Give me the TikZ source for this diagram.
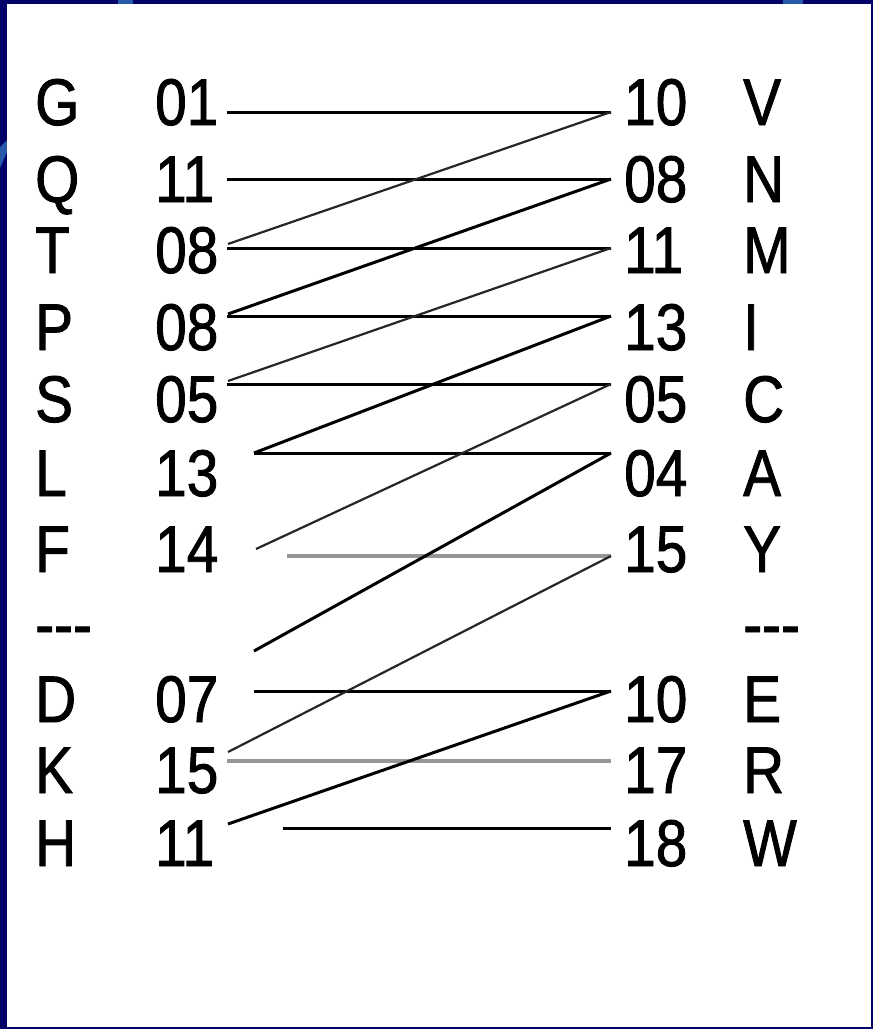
\documentclass[tikz,border=0pt]{standalone}
\usepackage{fontspec}
\newfontfamily\af[FakeStretch=0.86,FakeBold=1.3]{Liberation Sans}
\definecolor{navy}{RGB}{2,2,104}
\definecolor{swirl}{RGB}{40,90,170}
\definecolor{lgray}{RGB}{150,150,150}
\begin{document}
\begin{tikzpicture}[x=1pt,y=-1pt,
  lbl/.style={anchor=base west, inner sep=0pt, font=\af\fontsize{66}{70}\selectfont},
  hline/.style={line width=3pt, black},
  gline/.style={line width=4.5pt, lgray},
  thick diag/.style={line width=3pt, black},
  thin diag/.style={line width=2.2pt, black!85}]
\useasboundingbox (0,0) rectangle (873,1029);
\fill[navy] (0,0) rectangle (873,1029);
% decorative bits of the slide background
\fill[swirl] (118,0) rectangle (133,4);
\fill[swirl] (783,0) rectangle (803,4);
\fill[swirl] (0,147) -- (7,140) -- (7,152) -- (0,168) -- cycle;
\fill[white] (7,4) rectangle (871,1027);
% left column
\node[lbl] (G)  at (35,125) {G};   \node[lbl] (nG) at (155,125) {01};
\node[lbl] (Q)  at (35,202) {Q};   \node[lbl] (nQ) at (155,202) {11};
\node[lbl] (T)  at (35,273) {T};   \node[lbl] (nT) at (155,273) {08};
\node[lbl] (P)  at (35,350) {P};   \node[lbl] (nP) at (155,350) {08};
\node[lbl] (S)  at (35,422) {S};   \node[lbl] (nS) at (155,422) {05};
\node[lbl] (L)  at (35,496) {L};   \node[lbl] (nL) at (155,496) {13};
\node[lbl] (F)  at (35,572) {F};   \node[lbl] (nF) at (155,572) {14};
\node[lbl] (dl) at (35,647) {\hbox{-}\hbox{-}\hbox{-}};
\node[lbl] (D)  at (35,722) {D};   \node[lbl] (nD) at (155,722) {07};
\node[lbl] (K)  at (35,793) {K};   \node[lbl] (nK) at (155,793) {15};
\node[lbl] (H)  at (35,866) {H};   \node[lbl] (nH) at (155,866) {11};
% right column
\node[lbl] (nV) at (624,125) {10};  \node[lbl] (V) at (743,125) {V};
\node[lbl] (nN) at (624,202) {08};  \node[lbl] (N) at (743,202) {N};
\node[lbl] (nM) at (624,273) {11};  \node[lbl] (M) at (743,273) {M};
\node[lbl] (nI) at (624,350) {13};  \node[lbl] (I) at (743,350) {I};
\node[lbl] (nC) at (624,422) {05};  \node[lbl] (C) at (743,422) {C};
\node[lbl] (nA) at (624,496) {04};  \node[lbl] (A) at (743,496) {A};
\node[lbl] (nY) at (624,572) {15};  \node[lbl] (Y) at (743,572) {Y};
\node[lbl] (dr) at (743,647) {\hbox{-}\hbox{-}\hbox{-}};
\node[lbl] (nE) at (624,722) {10};  \node[lbl] (E) at (743,722) {E};
\node[lbl] (nR) at (624,793) {17};  \node[lbl] (R) at (743,793) {R};
\node[lbl] (nW) at (624,866) {18};  \node[lbl] (W) at (743,866) {W};
% connector end points
\coordinate (lG) at (227,112);
\coordinate (lQ) at (227,179);
\coordinate (lT) at (227,248);  \coordinate (lTd) at (228,244);
\coordinate (lP) at (227,316);  \coordinate (lPd) at (228,314);
\coordinate (lS) at (227,384);  \coordinate (lSd) at (228,381);
\coordinate (lL) at (254,453);
\coordinate (lF) at (287,556);  \coordinate (lFd) at (256,549);
\coordinate (lX) at (254,651);
\coordinate (lD) at (254,691);
\coordinate (lK) at (227,761);  \coordinate (lKd) at (228,752);
\coordinate (lH) at (283,828);  \coordinate (lHd) at (228,824);
\coordinate (rV) at (611,112);
\coordinate (rN) at (611,179);
\coordinate (rM) at (611,248);
\coordinate (rI) at (611,316);
\coordinate (rC) at (611,384);
\coordinate (rA) at (611,453);
\coordinate (rY) at (611,556);
\coordinate (rE) at (611,691);
\coordinate (rR) at (611,761);
\coordinate (rW) at (611,828);
% horizontal connectors
\draw[hline] (lG) -- (rV);
\draw[hline] (lQ) -- (rN);
\draw[hline] (lT) -- (rM);
\draw[hline] (lP) -- (rI);
\draw[hline] (lS) -- (rC);
\draw[hline] (lL) -- (rA);
\draw[gline] (lF) -- (rY);
\draw[hline] (lD) -- (rE);
\draw[gline] (lK) -- (rR);
\draw[hline] (lH) -- (rW);
% diagonal connectors
\draw[thin diag]  (rV) -- (lTd);
\draw[thick diag] (rN) -- (lPd);
\draw[thin diag]  (rM) -- (lSd);
\draw[thick diag] (rI) -- (lL);
\draw[thin diag]  (rC) -- (lFd);
\draw[thick diag] (rA) -- (lX);
\draw[thin diag]  (rY) -- (lKd);
\draw[thick diag] (rE) -- (lHd);
\end{tikzpicture}
\end{document}
